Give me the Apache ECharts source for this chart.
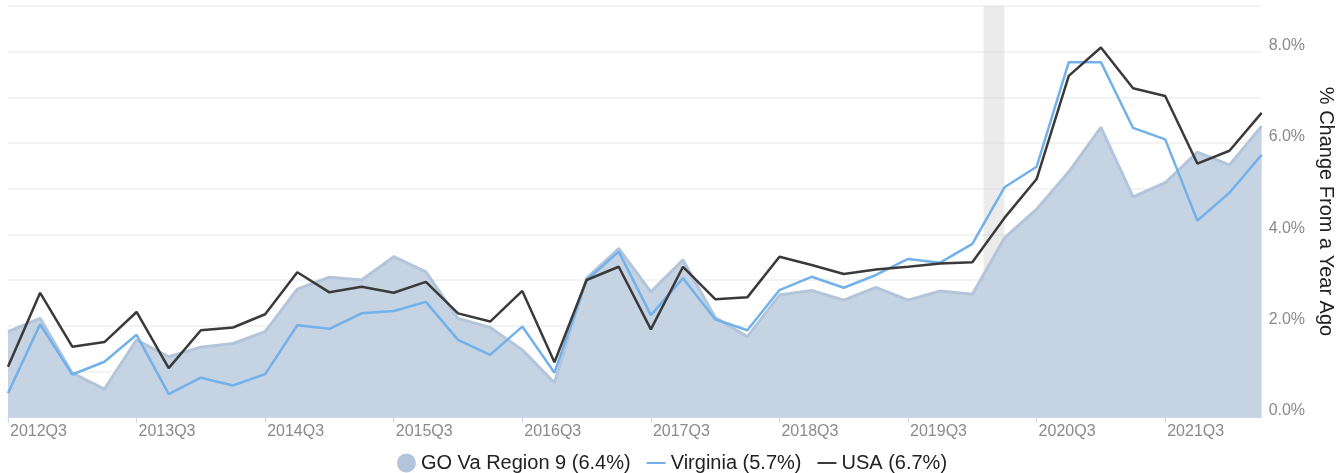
<!DOCTYPE html>
<html><head><meta charset="utf-8">
<script src="https://cdn.jsdelivr.net/npm/echarts@6/dist/echarts.min.js"></script>
<style>html,body{margin:0;padding:0;background:#fff}#c{width:1344px;height:473px}</style>
</head><body><div id="c"></div>
<script>
var quarters = ['2012Q3','2012Q4','2013Q1','2013Q2','2013Q3','2013Q4','2014Q1','2014Q2','2014Q3','2014Q4',
'2015Q1','2015Q2','2015Q3','2015Q4','2016Q1','2016Q2','2016Q3','2016Q4','2017Q1','2017Q2',
'2017Q3','2017Q4','2018Q1','2018Q2','2018Q3','2018Q4','2019Q1','2019Q2','2019Q3','2019Q4',
'2020Q1','2020Q2','2020Q3','2020Q4','2021Q1','2021Q2','2021Q3','2021Q4','2022Q1','2022Q2'];
var region = [1.87,2.16,0.96,0.61,1.69,1.32,1.53,1.61,1.87,2.80,3.06,3.00,3.51,3.18,2.16,1.96,1.47,0.75,3.04,3.69,
2.74,3.44,2.18,1.76,2.67,2.77,2.56,2.84,2.56,2.76,2.69,3.92,4.55,5.37,6.34,4.82,5.13,5.80,5.52,6.37];
var virginia = [0.52,2.03,0.93,1.21,1.80,0.50,0.86,0.69,0.94,2.01,1.93,2.27,2.32,2.52,1.69,1.36,1.98,0.97,3.00,3.62,
2.23,3.04,2.14,1.90,2.78,3.07,2.83,3.11,3.46,3.38,3.79,5.03,5.48,7.77,7.77,6.33,6.08,4.30,4.91,5.74];
var usa = [1.10,2.72,1.54,1.64,2.30,1.07,1.90,1.96,2.25,3.17,2.73,2.85,2.72,2.96,2.27,2.09,2.76,1.20,3.00,3.29,
1.92,3.29,2.58,2.62,3.51,3.33,3.13,3.23,3.29,3.36,3.39,4.36,5.21,7.47,8.09,7.20,7.03,5.55,5.83,6.66];
var seriesNames = ['GO Va Region 9 (6.4%)','Virginia (5.7%)','USA (6.7%)'];
var yTickLabels = [0,2,4,6,8];
var labelIdx = [0,4,8,12,16,20,24,28,32,36];
var recession = [30.35, 31.0];

function pts(arr){ return arr.map(function(v,i){ return [i,v]; }); }
var FONT = 'Liberation Sans, Arial, sans-serif';
var lineIcon = 'path://M0,0h0.05v0.05h-0.05z M0,8.6h20v2.2h-20z M0,19.35h0.05v0.05h-0.05z';

var chart = echarts.init(document.getElementById('c'), null, {renderer:'canvas'});
chart.setOption({
  animation:false,
  textStyle:{fontFamily:FONT},
  grid:{left:8,right:79,top:6,bottom:56,containLabel:false},
  legend:{
    top:448, left:'center', itemGap:16, itemWidth:19, itemHeight:19,
    textStyle:{fontSize:20,color:'#222',fontFamily:FONT},
    data:[
      {name:seriesNames[0],icon:'circle'},
      {name:seriesNames[1],icon:lineIcon},
      {name:seriesNames[2],icon:lineIcon}
    ]
  },
  xAxis:{
    type:'value', min:0, max:quarters.length-1,
    axisLine:{show:true,lineStyle:{color:'#ccd6eb'}},
    axisTick:{show:true,length:6,lineStyle:{color:'#ccd6eb'},customValues:labelIdx},
    axisLabel:{customValues:labelIdx,formatter:function(v){return quarters[Math.round(v)]||'';},
      align:'left',color:'#8a8a8a',fontSize:16,margin:7,padding:[0,0,0,2],fontFamily:FONT},
    splitLine:{show:false}
  },
  yAxis:{
    type:'value', position:'right', min:0, max:9, interval:1,
    name:'% Change From a Year Ago', nameLocation:'middle', nameRotate:-90, nameGap:44,
    nameTextStyle:{fontSize:20,color:'#222',fontFamily:FONT},
    axisLine:{show:false}, axisTick:{show:false},
    axisLabel:{customValues:yTickLabels,formatter:function(v){return v.toFixed(1)+'%';},
      color:'#8a8a8a',fontSize:16,margin:7,verticalAlign:'bottom',lineHeight:12,fontFamily:FONT},
    splitLine:{show:true,lineStyle:{color:'#efefef',width:1.5}}
  },
  series:[
    {name:seriesNames[0],type:'line',data:pts(region),showSymbol:false,symbol:'none',
     lineStyle:{color:'#b3c5da',width:3},itemStyle:{color:'#b3c5da'},
     areaStyle:{color:'#c5d3e3',opacity:1},z:1,
     markArea:{silent:true,itemStyle:{color:'rgba(205,205,205,0.4)'},data:[[{xAxis:recession[0]},{xAxis:recession[1]}]]}},
    {name:seriesNames[1],type:'line',data:pts(virginia),showSymbol:false,symbol:'none',
     lineStyle:{color:'#72b1ea',width:2.5},itemStyle:{color:'#72b1ea'},z:3},
    {name:seriesNames[2],type:'line',data:pts(usa),showSymbol:false,symbol:'none',
     lineStyle:{color:'#3a3a3a',width:2.5},itemStyle:{color:'#3a3a3a'},z:4}
  ]
});
</script></body></html>
